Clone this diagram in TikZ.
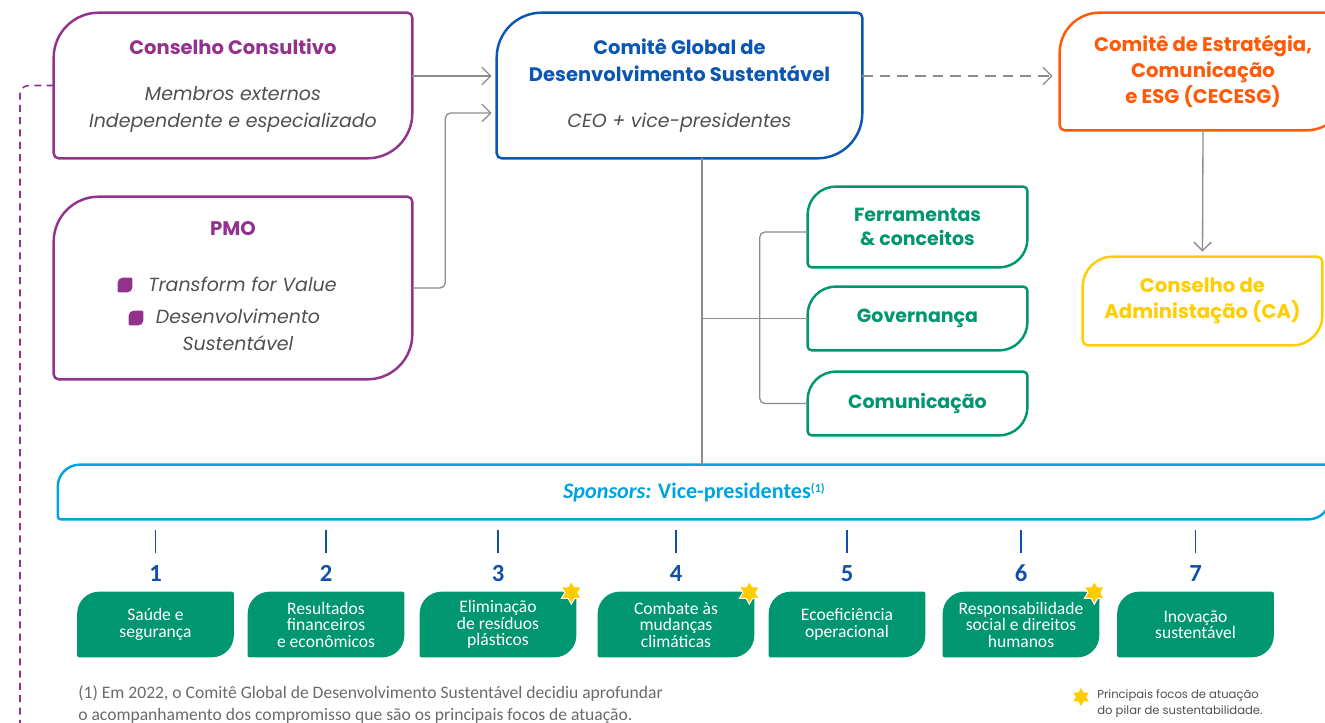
\documentclass[tikz,border=0pt]{standalone}
\usepackage{fontspec}
\setmainfont{Poppins}
\newfontfamily\narrowfont{Carlito}
\usetikzlibrary{
  arrows.meta,
  backgrounds,
  shapes.geometric
}
\definecolor{boardpurple}{RGB}{147,50,142}
\definecolor{globalblue}{RGB}{10,86,178}
\definecolor{esgorange}{RGB}{255,90,10}
\definecolor{caryellow}{RGB}{255,205,0}
\definecolor{pillargreen}{RGB}{0,150,112}
\definecolor{sponsorblue}{RGB}{0,163,224}
\definecolor{numberblue}{RGB}{16,80,170}
\definecolor{linegray}{RGB}{140,140,140}
\definecolor{textgray}{RGB}{80,80,80}
\definecolor{stargold}{RGB}{255,204,0}

% leaf outline: style, node, big radius, small radius
\newcommand{\leaf}[4]{%
  \path[#1] ([yshift=-#3]#2.north west) arc[start angle=180, end angle=90, radius=#3]
    -- ([xshift=-#4]#2.north east) arc[start angle=90, end angle=0, radius=#4]
    -- ([yshift=#3]#2.south east) arc[start angle=0, end angle=-90, radius=#3]
    -- ([xshift=#4]#2.south west) arc[start angle=270, end angle=180, radius=#4]
    -- cycle;}

\begin{document}
\begin{tikzpicture}[x=0.02cm, y=0.02cm,
  box/.style={rectangle, inner sep=0pt, align=center, text=textgray,
    font=\fontsize{10.8}{15.4}\selectfont},
  title/.style={box, font=\bfseries\fontsize{11.2}{14.8}\selectfont},
  link/.style={linegray, line width=0.75pt, -{Straight Barb[length=5pt, width=10pt]}},
  pillar/.style={rectangle, inner sep=0pt, align=center, text=white,
    minimum width=3.12cm, minimum height=1.3cm,
    font=\narrowfont\fontsize{10}{9.4}\selectfont},
  focus/.style={star, star points=6, star point ratio=1.75, fill=stargold,
    draw=white, line width=0.6pt, inner sep=0pt, minimum size=0.46cm},
  tickline/.style={numberblue, line width=1pt},
  num/.style={anchor=base, text=numberblue,
    font=\narrowfont\bfseries\fontsize{14}{14}\selectfont}]

  % Top row
  \node[box, minimum width=7.16cm, minimum height=2.9cm] (cons) at (233,-85.5)
    {{\bfseries\fontsize{11.1}{15.4}\selectfont\color{boardpurple}Conselho Consultivo}\\[11pt]
     {\itshape Membros externos}\\{\itshape Independente e especializado}};
  \node[box, minimum width=7.3cm, minimum height=2.9cm] (cgds) at (679.5,-85.5)
    {{\bfseries\fontsize{11.1}{15.4}\selectfont\color{globalblue}Comitê Global de}\\
     {\bfseries\fontsize{11.1}{15.4}\selectfont\color{globalblue}Desenvolvimento Sustentável}\\[11pt]
     {\itshape CEO + vice-presidentes}};
  \node[title, text=esgorange, minimum width=5.72cm, minimum height=2.34cm]
    (cecesg) at (1203,-71.5) {Comitê de Estratégia,\\Comunicação\\e ESG (CECESG)};
  \node[title, text=caryellow, minimum width=4.78cm, minimum height=1.76cm]
    (ca) at (1202.5,-301) {Conselho de\\Administação (CA)};

  % PMO
  \node[box, minimum width=7.16cm, minimum height=3.64cm] (pmo) at (233,-288) {};
  \node[title, text=boardpurple] (pmotitle) at (233,-229) {PMO};
  \node[box] (pmo1) at (242.5,-284) {\itshape Transform for Value};
  \node[box] (pmo2) at (238,-329.5) {\itshape Desenvolvimento\\\itshape Sustentável};
  \node[inner sep=0pt, minimum size=0.28cm] (m1) at (125,-285) {};
  \node[inner sep=0pt, minimum size=0.28cm] (m2) at (136,-318) {};

  % Working groups
  \node[title, text=pillargreen, minimum width=4.38cm, minimum height=1.6cm,
    font=\bfseries\fontsize{10.8}{13.7}\selectfont] (ferr) at (917.5,-227)
    {Ferramentas\\\& conceitos};
  \node[title, text=pillargreen, minimum width=4.38cm, minimum height=1.26cm,
    font=\bfseries\fontsize{10.8}{13.7}\selectfont] (gov) at (917.5,-318.5)
    {Governança};
  \node[title, text=pillargreen, minimum width=4.38cm, minimum height=1.26cm,
    font=\bfseries\fontsize{10.8}{13.7}\selectfont] (comu) at (917.5,-403.5)
    {Comunicação};

  % Sponsors
  \node[rectangle, inner sep=0pt, minimum width=25.44cm, minimum height=1.08cm,
    text=sponsorblue, font=\narrowfont\bfseries\fontsize{12.6}{13}\selectfont]
    (spons) at (694,-492)
    {{\itshape Sponsors:} Vice-presidentes\raisebox{0.55ex}{\fontsize{7}{7}\selectfont(1)}};

  % Pillars
  \foreach \x/\txt [count=\i] in {
      155.5/{Saúde e\\segurança},
      326/{Resultados\\financeiros\\e econômicos},
      498/{Eliminação\\de resíduos\\plásticos},
      676/{Combate às\\mudanças\\climáticas},
      847/{Ecoeficiência\\operacional},
      1021/{Responsabilidade\\social e direitos\\humanos},
      1195.5/{Inovação\\sustentável}} {
    \node[pillar] (g\i) at (\x,-624.5) {\txt};
    \node[num] (n\i) at (\x,-581) {\i};
    \draw[tickline] ([yshift=0.56cm]n\i.base) -- ([yshift=1.02cm]n\i.base);
  }
  \foreach \i in {3,4,6}
    \node[focus] (s\i) at ([xshift=-0.1cm, yshift=-0.02cm]g\i.north east) {};

  % Outlines
  \begin{scope}[on background layer]
    \leaf{draw=boardpurple, line width=1.4pt}{cons}{0.9cm}{0.1cm}
    \leaf{draw=boardpurple, line width=1.4pt}{pmo}{0.9cm}{0.1cm}
    \leaf{draw=globalblue, line width=1.4pt}{cgds}{0.9cm}{0.1cm}
    \leaf{draw=esgorange, line width=1.4pt}{cecesg}{0.8cm}{0.1cm}
    \leaf{draw=caryellow, line width=1.4pt}{ca}{0.6cm}{0.1cm}
    \leaf{draw=pillargreen, line width=1.4pt}{ferr}{0.56cm}{0.08cm}
    \leaf{draw=pillargreen, line width=1.4pt}{gov}{0.56cm}{0.08cm}
    \leaf{draw=pillargreen, line width=1.4pt}{comu}{0.56cm}{0.08cm}
    \leaf{draw=sponsorblue, line width=1.4pt}{spons}{0.44cm}{0.06cm}
    \leaf{fill=boardpurple}{m1}{0.1cm}{0.02cm}
    \leaf{fill=boardpurple}{m2}{0.1cm}{0.02cm}
    \foreach \i in {1,...,7} {
      \leaf{fill=pillargreen}{g\i}{0.44cm}{0.04cm}
    }
  \end{scope}

  % Connectors
  \draw[link, shorten >=0.1cm] ([yshift=0.19cm]cons.east) -- ([yshift=0.19cm]cons.east -| cgds.west);
  \draw[link, rounded corners=3pt, shorten >=0.1cm] (pmo.east) -- ++(33,0) |- ([yshift=-0.55cm]cgds.west);
  \draw[link, dash pattern=on 6pt off 4pt, shorten >=0.14cm]
    ([yshift=0.19cm]cgds.east) -- ([yshift=0.19cm]cgds.east -| cecesg.west);
  \draw[link, shorten >=0.1cm] (cecesg.south) -- (ca.north);
  \coordinate (trunk) at ([xshift=0.45cm]cgds.south);
  \draw[linegray, line width=0.75pt] (trunk) -- (trunk |- spons.north);
  \draw[linegray, line width=0.75pt] (gov.west) -- (gov.west -| trunk);
  \draw[linegray, line width=0.75pt, rounded corners=3pt]
    ([yshift=-0.1cm]ferr.west) -- ++(-48,0) |- (comu.west);
  \draw[boardpurple, line width=0.9pt, dash pattern=on 4pt off 3pt, rounded corners=5pt]
    (cons.west) -| (20,-740);

  % Notes
  \node[anchor=west, align=left, inner sep=0pt, text=textgray!85,
    font=\narrowfont\fontsize{10}{13}\selectfont] (note) at (78,-704.5)
    {(1) Em 2022, o Comitê Global de Desenvolvimento Sustentável decidiu aprofundar\\
     o acompanhamento dos compromisso que são os principais focos de atuação.};
  \node[focus, draw=none, minimum size=0.36cm] (legstar) at (1081,-697) {};
  \node[anchor=west, align=left, inner sep=0pt, text=textgray,
    font=\fontsize{6.6}{9.1}\selectfont] (legend) at (1097,-704)
    {Principais focos de atuação\\do pilar de sustentabilidade.};

  \pgfresetboundingbox
  \useasboundingbox (0,0) rectangle (1325,-723);
\end{tikzpicture}
\end{document}
